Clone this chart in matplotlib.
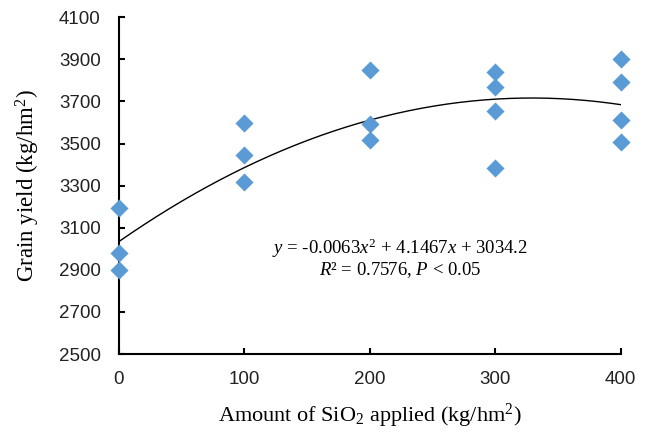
import matplotlib.pyplot as plt
import numpy as np

plt.rcParams["mathtext.fontset"] = "custom"
plt.rcParams["mathtext.rm"] = "Liberation Serif"
plt.rcParams["mathtext.it"] = "Liberation Serif:italic"

sio2 = [0, 0, 0, 100, 100, 100, 200, 200, 200, 300, 300, 300, 300, 400, 400, 400, 400]
grain_yield = [3195, 2978, 2897, 3600, 3445, 3318, 3850, 3592, 3517,
               3842, 3767, 3656, 3386, 3902, 3792, 3610, 3507]
fit_coef = [-0.0063, 4.1467, 3034.2]
x_ticks = [0, 100, 200, 300, 400]
y_ticks = [2500, 2700, 2900, 3100, 3300, 3500, 3700, 3900, 4100]

fig = plt.figure(figsize=(6.46, 4.33), dpi=100)
ax = fig.add_axes([0.184, 0.1824, 0.777, 0.7776])

xs = np.linspace(0, 400, 200)
ax.plot(xs, np.polyval(fit_coef, xs), color="black", lw=1.0, zorder=2)
ax.scatter(sio2, grain_yield, marker="D", s=85, color="#5B9BD5",
           linewidths=0, zorder=3, clip_on=False)

ax.set_xlim(0, 400)
ax.set_ylim(2500, 4100)
ax.set_xticks(x_ticks)
ax.set_yticks(y_ticks)
for side in ["top", "right"]:
    ax.spines[side].set_visible(False)
for side in ["left", "bottom"]:
    ax.spines[side].set_linewidth(1.5)
ax.tick_params(direction="in", length=4, width=1.5, labelsize=13.5,
               colors="black")
ax.tick_params(axis="y", pad=13)
ax.tick_params(axis="x", pad=12)
for lab in ax.get_xticklabels() + ax.get_yticklabels():
    lab.set_fontfamily("Liberation Sans")
    lab.set_color("#222222")

ax.set_xlabel("Amount of SiO$_2$ applied (kg/hm$^2$)", fontsize=16,
              fontfamily="Liberation Serif", labelpad=10)
ax.set_ylabel("Grain yield (kg/hm$^2$)", fontsize=16.5,
              fontfamily="Liberation Serif", labelpad=12)

ax.text(224, 3004, "$y$ = -0.0063$x^2$ + 4.1467$x$ + 3034.2", ha="center",
        va="center", fontsize=13.5, fontfamily="Liberation Serif")
ax.text(224, 2900, "$R$² = 0.7576, $P$ < 0.05", ha="center", va="center",
        fontsize=13.5, fontfamily="Liberation Serif")

plt.savefig("out.png", dpi=100)
